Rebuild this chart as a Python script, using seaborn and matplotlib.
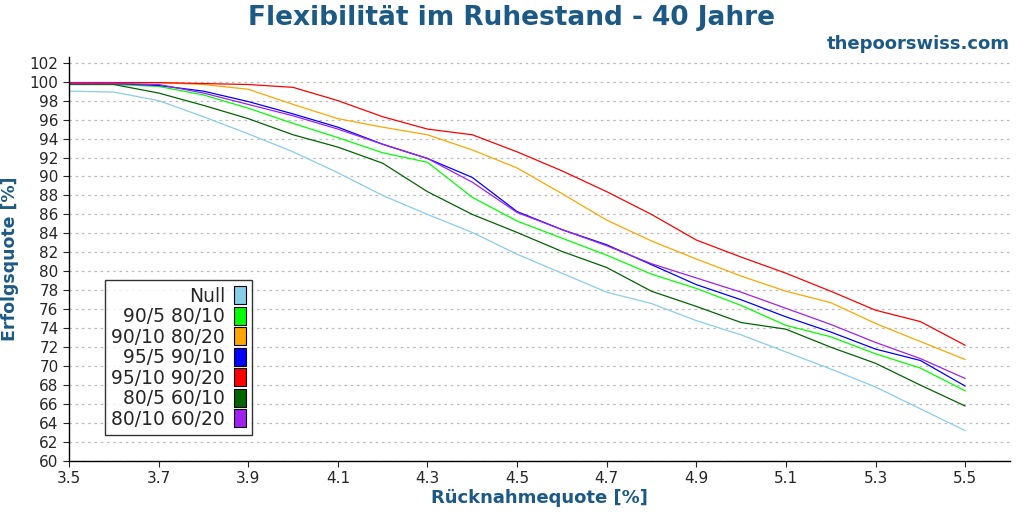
import numpy as np
import pandas as pd
import seaborn as sns
import matplotlib.pyplot as plt
from matplotlib.patches import Patch

rates = [3.5, 3.6, 3.7, 3.8, 3.9, 4.0, 4.1, 4.2, 4.3, 4.4, 4.5, 4.6, 4.7, 4.8, 4.9, 5.0, 5.1, 5.2, 5.3, 5.4, 5.5]
null = [99.0, 98.9, 98.0, 96.3, 94.5, 92.6, 90.4, 88.0, 86.0, 84.1, 81.8, 79.8, 77.8, 76.6, 74.8, 73.3, 71.5, 69.7, 67.8, 65.5, 63.2]
g90_5 = [99.8, 99.7, 99.5, 98.6, 97.2, 95.6, 94.1, 92.5, 91.5, 87.8, 85.3, 83.5, 81.7, 79.7, 78.2, 76.4, 74.3, 73.1, 71.3, 69.8, 67.4]
g90_10 = [99.9, 99.9, 99.9, 99.7, 99.2, 97.6, 96.1, 95.2, 94.4, 92.8, 90.9, 88.2, 85.4, 83.2, 81.3, 79.5, 77.9, 76.7, 74.5, 72.6, 70.7]
g95_5 = [99.8, 99.8, 99.6, 99.0, 97.9, 96.6, 95.2, 93.4, 91.9, 89.9, 86.3, 84.4, 82.8, 80.7, 78.6, 77.0, 75.2, 73.6, 71.8, 70.6, 67.9]
g95_10 = [99.9, 99.9, 99.9, 99.8, 99.7, 99.4, 98.0, 96.3, 95.0, 94.4, 92.6, 90.6, 88.4, 86.0, 83.3, 81.5, 79.8, 77.9, 75.9, 74.7, 72.2]
g80_5 = [99.7, 99.7, 98.8, 97.5, 96.1, 94.4, 93.1, 91.4, 88.4, 86.0, 84.1, 82.1, 80.4, 77.9, 76.3, 74.6, 73.9, 72.0, 70.3, 68.0, 65.8]
g80_10 = [99.8, 99.8, 99.7, 98.8, 97.6, 96.4, 95.0, 93.4, 91.9, 89.4, 86.2, 84.4, 82.7, 80.8, 79.3, 77.8, 76.1, 74.4, 72.5, 70.8, 68.7]

names = ["Null", "90/5 80/10", "90/10 80/20", "95/5 90/10", "95/10 90/20", "80/5 60/10", "80/10 60/20"]
colors = ["#87ceeb", "#00ff00", "#ffa500", "#0000ff", "#ff0000", "#006400", "#a020f0"]
series = [null, g90_5, g90_10, g95_5, g95_10, g80_5, g80_10]

df = pd.concat([pd.DataFrame({"x": rates, "y": s, "name": n}) for n, s in zip(names, series)])

sns.set_style("white")
plt.rcParams['font.family'] = ['DejaVu Sans']
fig = plt.figure(figsize=(10.24, 5.12), dpi=100)
ax = fig.add_axes([69 / 1024, 1 - 461 / 512, 941 / 1024, 404 / 512])
sns.lineplot(data=df, x="x", y="y", hue="name", palette=dict(zip(names, colors)),
             linewidth=0.9, legend=False, ax=ax)

ax.set_xlim(3.5, 5.6)
ax.set_ylim(60, 102.6)
ax.set_xticks(np.arange(3.5, 5.51, 0.2))
ax.set_xticklabels([f"{v:.1f}" for v in np.arange(3.5, 5.51, 0.2)])
ax.set_yticks(range(60, 103, 2))
ax.tick_params(labelsize=11, length=4, direction="out", bottom=True, left=True)
ax.yaxis.grid(True, linestyle=(0, (2, 3)), color="#bbbbbb", linewidth=0.9)
for s in ["top", "right"]:
    ax.spines[s].set_visible(False)
for s in ["left", "bottom"]:
    ax.spines[s].set_color("black")
    ax.spines[s].set_linewidth(1)

title_color = "#1c5a85"
ax.set_xlabel("Rücknahmequote [%]", fontsize=13, fontweight="bold", color=title_color, labelpad=2)
ax.set_ylabel("Erfolgsquote [%]", fontsize=12.5, fontweight="bold", color=title_color, labelpad=8)
fig.text(0.5, 0.964, "Flexibilität im Ruhestand - 40 Jahre", ha="center", va="center",
         fontsize=19, fontweight="bold", color=title_color)
fig.text(0.986, 0.914, "thepoorswiss.com", ha="right", va="center",
         fontsize=13, fontweight="bold", color=title_color)

handles = [Patch(facecolor=c, edgecolor="black", linewidth=0.8) for c in colors]
leg = ax.legend(handles, names, loc="lower left", bbox_to_anchor=(0.038, 0.064), markerfirst=False,
                fontsize=13.5, frameon=True, fancybox=False, handlelength=0.6, handleheight=1.1,
                handletextpad=0.5, labelspacing=0.06, borderpad=0.35, borderaxespad=0)
leg.get_frame().set_edgecolor("black")
leg.get_frame().set_linewidth(1)
for t in leg.get_texts():
    t.set_ha("right")

fig.savefig("out.png", dpi=100)
